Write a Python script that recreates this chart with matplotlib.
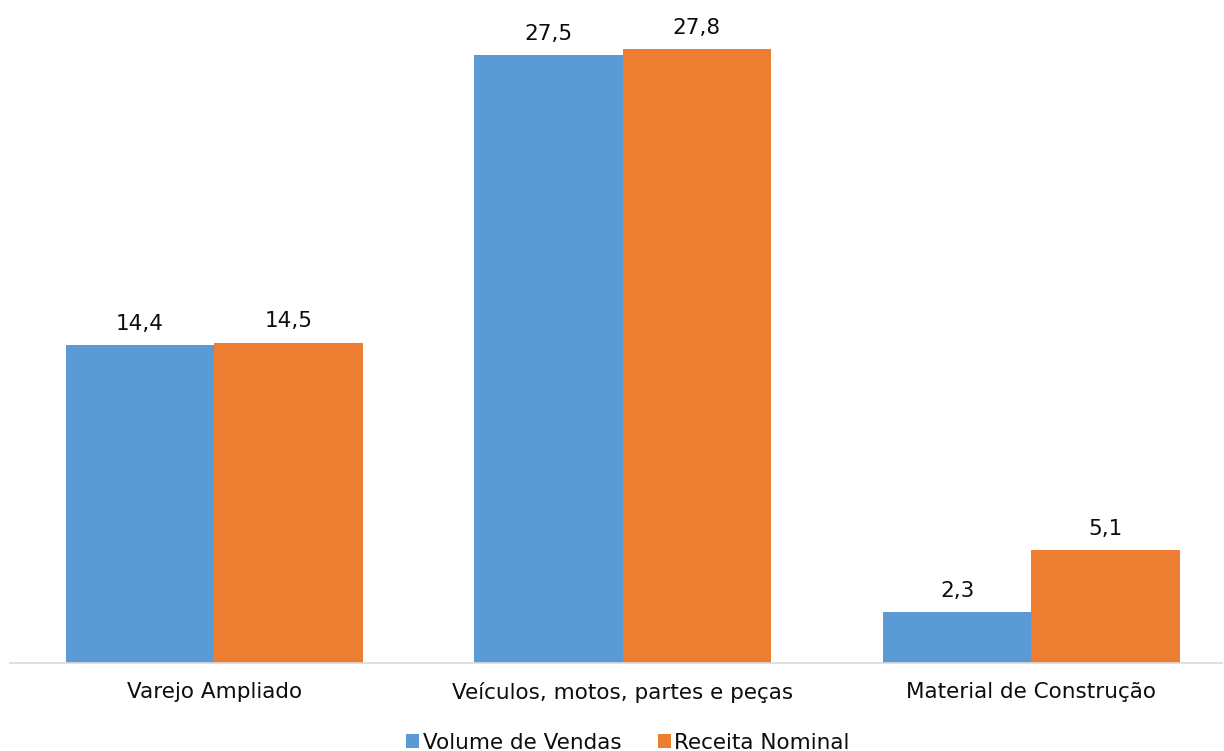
import numpy as np
import matplotlib.pyplot as plt

categorias = ["Varejo Ampliado", "Veículos, motos, partes e peças", "Material de Construção"]
volume_vendas = [14.4, 27.5, 2.3]
receita_nominal = [14.5, 27.8, 5.1]

azul = "#5B9BD5"
laranja = "#ED7D31"
texto = "#0d0d0d"

plt.rcParams["font.family"] = "DejaVu Sans"

fig = plt.figure(figsize=(12.24, 7.51), dpi=100)
ax = fig.add_axes([10 / 1224, 88 / 751, 1212 / 1224, 663 / 751])

x = np.arange(len(categorias))
w = 0.363
b1 = ax.bar(x - w / 2, volume_vendas, w, color=azul, label="Volume de Vendas")
b2 = ax.bar(x + w / 2, receita_nominal, w, color=laranja, label="Receita Nominal")

for bars, vals in ((b1, volume_vendas), (b2, receita_nominal)):
    for r, v in zip(bars, vals):
        ax.annotate(f"{v:.1f}".replace(".", ","), (r.get_x() + r.get_width() / 2, v),
                    xytext=(0, 8), textcoords="offset points",
                    ha="center", va="bottom", fontsize=15.5, color=texto)

ax.set_xlim(-0.5, 2.467)
ax.set_ylim(0, 30)
ax.set_xticks(x)
ax.set_xticklabels(categorias, fontsize=15.5, color=texto)
ax.tick_params(axis="x", length=0, pad=14)
ax.set_yticks([])
for s in ["top", "right", "left"]:
    ax.spines[s].set_visible(False)
ax.spines["bottom"].set_color("#D9D9D9")
ax.spines["bottom"].set_linewidth(1.2)

leg = fig.legend(loc="lower center", bbox_to_anchor=(0.513, -0.028), ncol=2, frameon=False,
                 fontsize=15.5, handlelength=0.6, handleheight=0.6, handletextpad=0.15,
                 columnspacing=1.7)
for t in leg.get_texts():
    t.set_color(texto)

fig.savefig("out.png", dpi=100)
